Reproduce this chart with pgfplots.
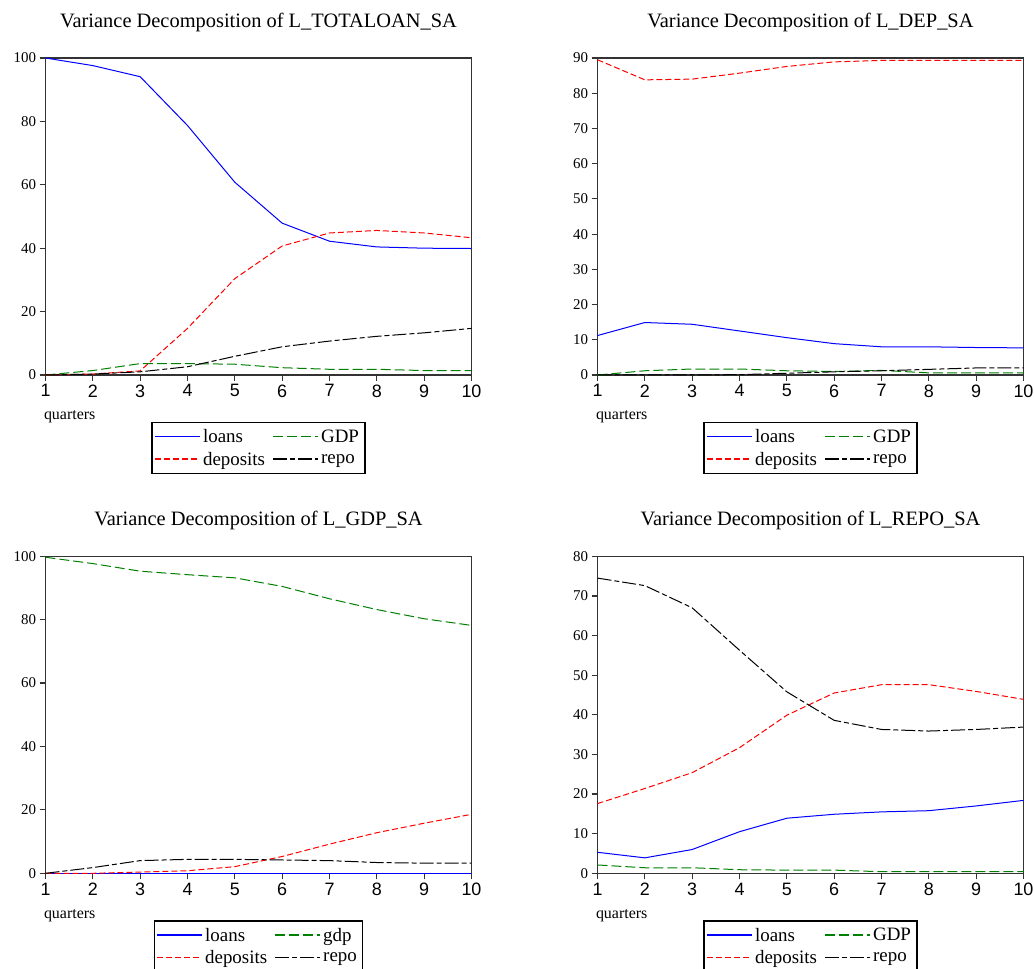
\documentclass[border=0pt]{standalone}
\usepackage{fontspec}
\setmainfont{Liberation Serif}
\newfontfamily\arialf{Liberation Sans}
\usepackage{pgfplots}
\pgfplotsset{compat=1.18}

\definecolor{eblue}{RGB}{0,0,255}
\definecolor{ered}{RGB}{255,0,0}
\definecolor{egreen}{RGB}{0,128,0}

\newcommand\legR[1]{\rule[-0.7bp]{#1bp}{1.4bp}}
\newcommand\legG[1]{\hspace{#1bp}}

\tikzset{
 loans/.style={draw=eblue, solid},
 deps/.style={draw=ered, dash pattern=on 6bp off 3bp},
 gdp/.style={draw=egreen, dash pattern=on 10bp off 4bp},
 repo/.style={draw=black, dash pattern=on 14bp off 3bp on 5bp off 3bp},
}

\pgfplotsset{
 legL/.style={legend image code/.code={\node[inner sep=0pt, anchor=west] at (0bp,0bp) {\textcolor{eblue}{\legR{45}}};}},
 legD/.style={legend image code/.code={\node[inner sep=0pt, anchor=west] at (0bp,0bp) {\textcolor{ered}{\legR{6}\legG{3}\legR{6}\legG{3}\legR{6}\legG{3}\legR{6}\legG{3}\legR{6}}};}},
 legP/.style={legend image code/.code={\node[inner sep=0pt, anchor=west] at (0bp,0bp) {\textcolor{egreen}{\legR{10}\legG{4}\legR{10}\legG{4}\legR{10}\legG{4}\legR{3}}};}},
 legR/.style={legend image code/.code={\node[inner sep=0pt, anchor=west] at (0bp,0bp) {\textcolor{black}{\legR{14}\legG{3}\legR{5}\legG{3}\legR{14}\legG{3}\legR{3}}};}},
 vd/.style={
  scale only axis, width=426bp, height=317bp,
  xmin=1, xmax=10, ymin=0,
  axis line style={line width=1.5bp, black!80},
  xtick={1,...,10}, tick align=outside, xtick pos=bottom, ytick pos=left,
  major tick length=6bp, tick style={line width=1.2bp, black!80},
  /pgf/number format/assume math mode=true,
  xticklabel style={font=\arialf\fontsize{18}{20}\selectfont},
  yticklabel style={font=\fontsize{15}{17}\selectfont},
  title style={font=\fontsize{20.5}{24}\selectfont, at={(0.5,1)}, anchor=base, yshift=25bp},
  xlabel={quarters},
  xlabel style={font=\fontsize{16}{18}\selectfont, at={(axis description cs:0,0)}, anchor=west, xshift=-5bp, yshift=-42bp},
  legend columns=2,
  legend cell align=left,
  legend style={at={(0.5,0)}, anchor=north, yshift=-47bp, font=\fontsize{19}{22}\selectfont,
    fill=white, line width=1.2bp, inner xsep=3bp, inner ysep=3bp,
    nodes={inner xsep=3bp, inner ysep=4bp},
    /tikz/every even column/.append style={column sep=5bp}},
  legend image code/.code={\draw[line width=1.1bp, #1] (0bp,0bp) -- (45bp,0bp);},
  clip=false,
  every axis plot/.append style={line width=1bp},
 },
}

\begin{document}
\begin{tikzpicture}
\useasboundingbox (0bp,0bp) rectangle (1034bp,969bp);

% Panel 1
\begin{axis}[vd, at={(45.5bp,594bp)}, anchor=south west, ymax=100, ytick={0,20,...,100},
  title={Variance Decomposition of L\_TOTALOAN\_SA}]
\addplot[loans, legL] coordinates {(1,100)(2,97.6)(3,94.1)(4,78.7)(5,60.8)(6,47.9)(7,42.2)(8,40.4)(9,40.0)(10,39.9)};
\addlegendentry{loans}
\addplot[gdp, legP] coordinates {(1,0)(2,1.4)(3,3.6)(4,3.6)(5,3.4)(6,2.3)(7,1.8)(8,1.8)(9,1.4)(10,1.4)};
\addlegendentry{GDP}
\addplot[deps, legD] coordinates {(1,0)(2,0.3)(3,1.3)(4,14.7)(5,30.4)(6,40.7)(7,44.8)(8,45.6)(9,44.8)(10,43.3)};
\addlegendentry{deposits}
\addplot[repo, legR] coordinates {(1,0)(2,0.3)(3,1.0)(4,2.6)(5,5.9)(6,8.9)(7,10.7)(8,12.2)(9,13.3)(10,14.7)};
\addlegendentry{repo}
\end{axis}

% Panel 2
\begin{axis}[vd, at={(597.5bp,594bp)}, anchor=south west, ymax=90, ytick={0,10,...,90},
  title={Variance Decomposition of L\_DEP\_SA}]
\addplot[loans, legL] coordinates {(1,11.2)(2,14.9)(3,14.4)(4,12.5)(5,10.6)(6,8.9)(7,8.0)(8,8.0)(9,7.8)(10,7.7)};
\addlegendentry{loans}
\addplot[gdp, legP] coordinates {(1,0)(2,1.2)(3,1.7)(4,1.7)(5,1.2)(6,1.0)(7,1.3)(8,0.6)(9,0.6)(10,0.6)};
\addlegendentry{GDP}
\addplot[deps, legD] coordinates {(1,89.5)(2,83.8)(3,84.0)(4,85.7)(5,87.6)(6,88.9)(7,89.3)(8,89.3)(9,89.3)(10,89.3)};
\addlegendentry{deposits}
\addplot[repo, legR] coordinates {(1,0)(2,0)(3,0)(4,0.1)(5,0.5)(6,0.9)(7,1.2)(8,1.6)(9,2.0)(10,2.0)};
\addlegendentry{repo}
\end{axis}

% Panel 3
\begin{axis}[vd, at={(45.5bp,95.7bp)}, anchor=south west, ymax=100, ytick={0,20,...,100},
  title={Variance Decomposition of L\_GDP\_SA}]
\addplot[loans, legL] coordinates {(1,0)(2,0)(3,0)(4,0)(5,0)(6,0)(7,0)(8,0)(9,0)(10,0)};
\addlegendentry{loans}
\addplot[gdp, legP] coordinates {(1,99.7)(2,97.7)(3,95.3)(4,94.2)(5,93.2)(6,90.5)(7,86.6)(8,83.2)(9,80.3)(10,78.2)};
\addlegendentry{gdp}
\addplot[deps, legD] coordinates {(1,0)(2,0)(3,0.4)(4,0.8)(5,2.1)(6,5.3)(7,9.2)(8,12.8)(9,15.8)(10,18.6)};
\addlegendentry{deposits}
\addplot[repo, legR] coordinates {(1,0)(2,1.8)(3,4.0)(4,4.4)(5,4.4)(6,4.2)(7,4.0)(8,3.4)(9,3.2)(10,3.2)};
\addlegendentry{repo}
\end{axis}

% Panel 4
\begin{axis}[vd, at={(597.5bp,95.7bp)}, anchor=south west, ymax=80, ytick={0,10,...,80},
  title={Variance Decomposition of L\_REPO\_SA}]
\addplot[loans, legL] coordinates {(1,5.3)(2,3.9)(3,6.0)(4,10.5)(5,13.9)(6,14.9)(7,15.5)(8,15.8)(9,17.0)(10,18.4)};
\addlegendentry{loans}
\addplot[gdp, legP] coordinates {(1,2.1)(2,1.4)(3,1.4)(4,0.9)(5,0.8)(6,0.8)(7,0.4)(8,0.4)(9,0.4)(10,0.4)};
\addlegendentry{GDP}
\addplot[deps, legD] coordinates {(1,17.6)(2,21.4)(3,25.4)(4,31.7)(5,39.9)(6,45.5)(7,47.6)(8,47.6)(9,45.9)(10,43.9)};
\addlegendentry{deposits}
\addplot[repo, legR] coordinates {(1,74.5)(2,72.6)(3,67.0)(4,56.3)(5,45.8)(6,38.6)(7,36.3)(8,35.9)(9,36.3)(10,36.9)};
\addlegendentry{repo}
\end{axis}
\end{tikzpicture}
\end{document}
